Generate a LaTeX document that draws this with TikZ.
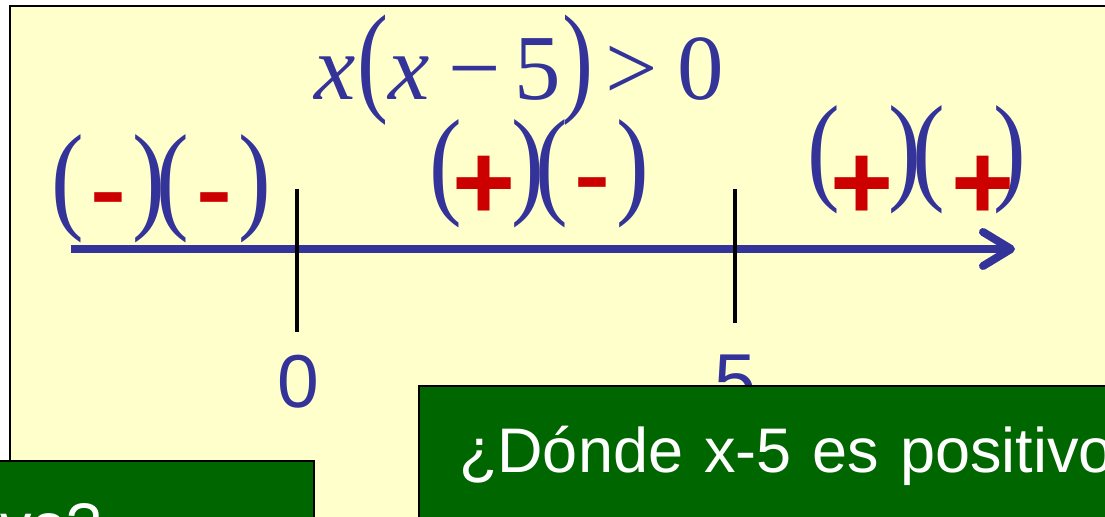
\documentclass[tikz,border=0pt]{standalone}
\usepackage{fontspec}
\setmainfont{Liberation Serif}
\newfontfamily\arialfont{Liberation Sans}
\usepackage{graphicx}
\usetikzlibrary{arrows.meta}
\definecolor{hgelb}{HTML}{FFFFCC}
\definecolor{dblau}{HTML}{333399}
\definecolor{srot}{HTML}{CC0000}
\definecolor{bgruen}{HTML}{006600}
\newcommand{\hklammer}[2]{\scalebox{1}[#1]{#2}}

\begin{document}
\begin{tikzpicture}[x=0.5pt, y=-0.5pt,
			klammer/.style={inner sep=0pt, text=dblau, font=\fontsize{49pt}{50pt}\selectfont},
			vorz/.style={inner sep=0pt, anchor=base, text=srot, font=\arialfont\bfseries\fontsize{54pt}{60pt}\selectfont},
			marke/.style={inner sep=0pt, text=dblau, font=\arialfont\fontsize{37.5pt}{40pt}\selectfont},
			frage/.style={draw=black, line width=1pt, fill=bgruen, text=white, anchor=north west, align=left,
				inner xsep=20pt, inner ysep=0pt, text height=43.5pt, text depth=56.5pt,
				font=\arialfont\fontsize{31.5pt}{36pt}\selectfont},
			>={Straight Barb[round, length=14pt, width=17pt]}]
			%Bildbereich
			\useasboundingbox (0,0) rectangle (1105,517);
			\clip (0,0) rectangle (1105,517);
			%Hintergrund zeichnen
			\draw[fill=hgelb, line width=1pt] (10,6) rectangle (1140,560);
			% Ungleichung
			\node[anchor=base west, inner sep=0pt, text=dblau, font=\fontsize{46.5pt}{50pt}\selectfont] (ungl) at (314,100)
				{\textit{x}\kern1pt\hklammer{1.31}{(}\textit{x}\kern9.5pt−\kern6.75pt5\kern0.5pt\hklammer{1.31}{)}\kern6pt>\kern10pt0};
			% Klammern der Vorzeichen
			\foreach \x/\y/\k [count=\i] in {67.5/189/{(}, 148.5/189/{)}, 172.5/189/{(}, 254.5/189/{)},
				446/174/{(}, 527.5/174/{)}, 551.5/174/{(}, 632.5/174/{)},
				823.5/159.5/{(}, 904.5/159.5/{)}, 928.5/159.5/{(}, 1010/159.5/{)}}
				\node[klammer] (k\i) at (\x,\y) {\hklammer{1.22}{\k}};
			% Vorzeichen
			\foreach \x/\y/\s [count=\i] in {108.5/219/{\hklammer{0.75}{-}}, 214.5/219/{\hklammer{0.75}{-}}, 484.5/219.5/+,
				592.5/204/{\hklammer{0.75}{-}}, 862/219.5/+, 983.5/219.5/+}
				\node[vorz] (v\i) at (\x,\y) {\s};
			% Zahlenstrahl zeichnen
			\coordinate (anf) at (71,249);
			\coordinate (ende) at (1015,249);
			\draw[->, dblau, line width=4pt] (anf) -- (ende);
			% Markierungen bei 0 und 5
			\coordinate (n0o) at (297,189);
			\coordinate (n0u) at (297,332);
			\coordinate (n5o) at (735,189);
			\coordinate (n5u) at (735,323);
			\draw[line width=2pt] (n0o) -- (n0u);
			\draw[line width=2pt] (n5o) -- (n5u);
			\node[marke] (m0) at (298.5,381.5) {0};
			\node[marke] (m5) at (735,381.5) {5};
			% Fragen
			\node[frage, text width=403pt] (frage0) at (-573,460) {¿Dónde x es positivo?};
			\node[frage, text width=400pt] (frage5) at (418,385) {¿Dónde x-5 es positivo?};
		\end{tikzpicture}
\end{document}
